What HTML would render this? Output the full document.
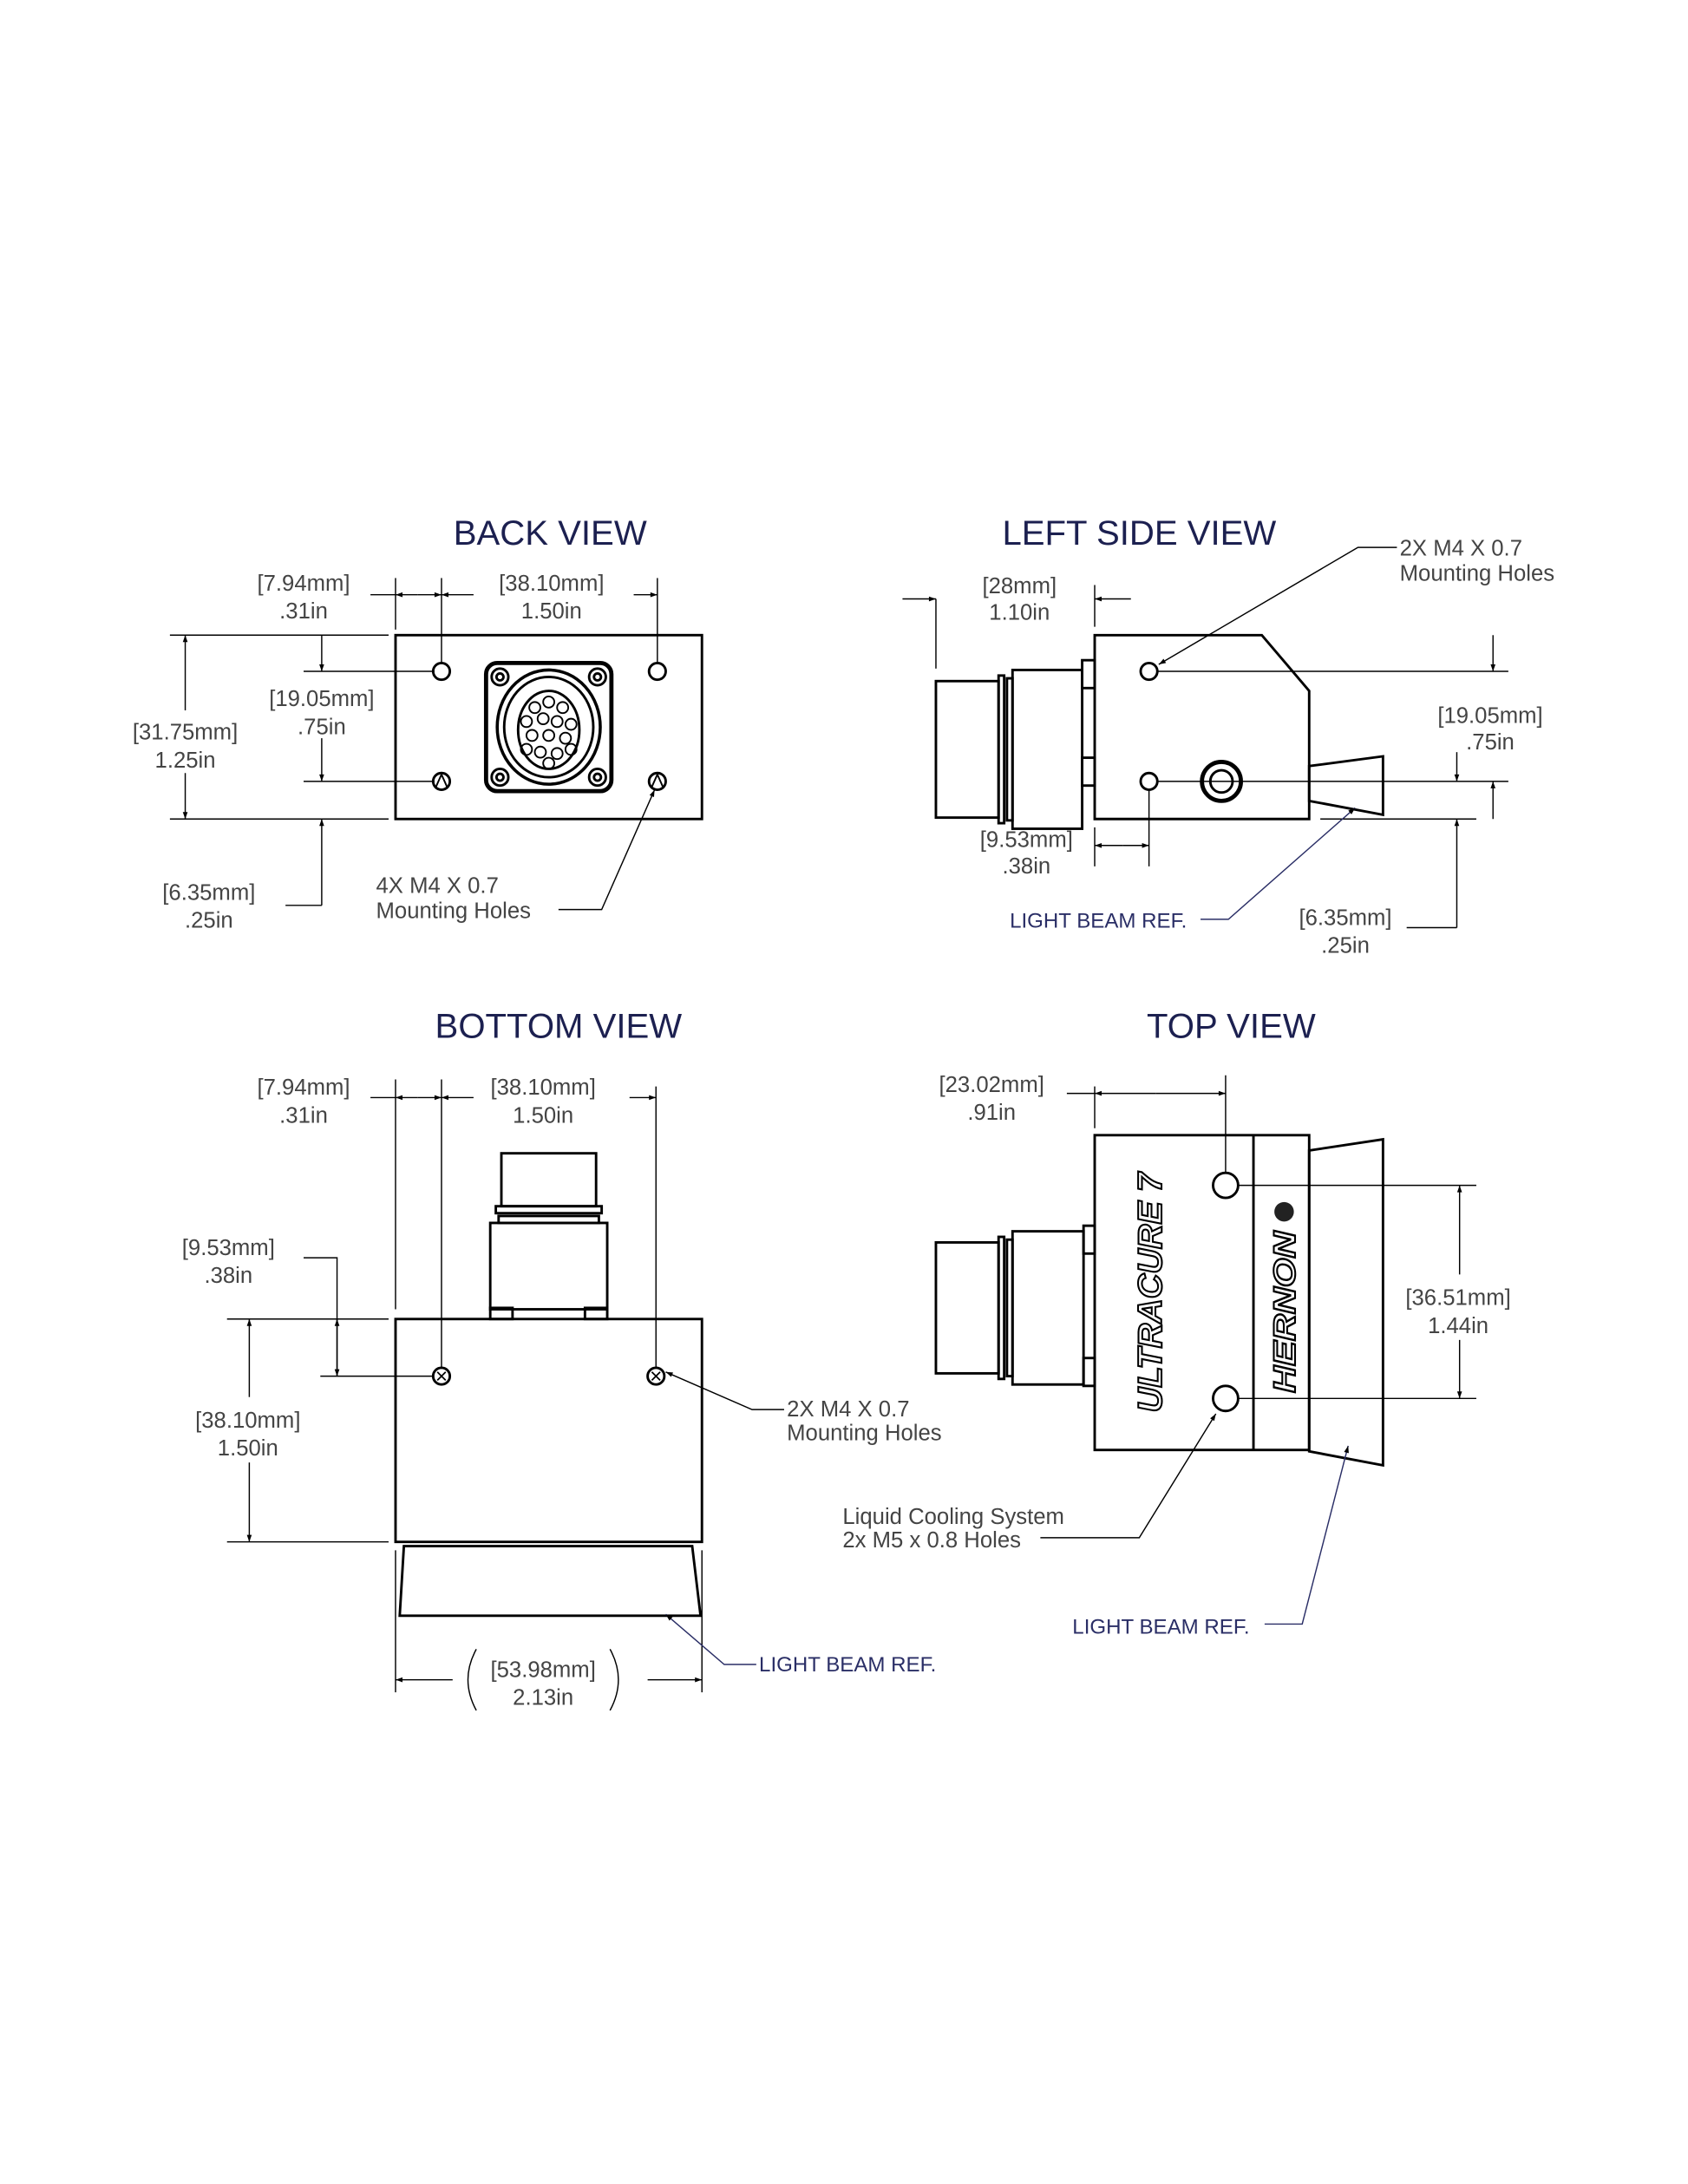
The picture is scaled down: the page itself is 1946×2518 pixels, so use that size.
<!DOCTYPE html>
<html><head><meta charset="utf-8"><style>
html,body{margin:0;padding:0;background:#fff;}
svg{display:block;}
text{font-family:"Liberation Sans",sans-serif;}
.d{font-size:16px;fill:#444;}
.t{font-size:25px;fill:#1c2050;}
.b{font-size:15px;fill:#2a2e66;}
</style></head><body>
<svg width="1946" height="2518" viewBox="0 0 1212 1568" preserveAspectRatio="none" xmlns="http://www.w3.org/2000/svg">
<defs>
<marker id="a" viewBox="0 0 10 10" refX="10" refY="5" markerWidth="9" markerHeight="5" markerUnits="userSpaceOnUse" orient="auto-start-reverse"><path d="M0,1.5 L10,5 L0,8.5z" fill="#000"/></marker>
</defs>
<g fill="none" stroke="#000" stroke-width="1.8">
<rect x="284" y="456" width="220" height="132"/>
<circle cx="317" cy="482" r="6"/><circle cx="472" cy="482" r="6"/>
<circle cx="317" cy="561" r="6"/><circle cx="472" cy="561" r="6"/>
<path d="M313,565 L317,556 L321,565" stroke-width="1.2"/><path d="M468,565 L472,556 L476,565" stroke-width="1.2"/>
<rect x="349" y="476" width="90" height="92" rx="8" stroke-width="3"/>
<circle cx="359" cy="486" r="6"/><circle cx="429" cy="486" r="6"/><circle cx="359" cy="558" r="6"/><circle cx="429" cy="558" r="6"/>
<circle cx="359" cy="486" r="2.5"/><circle cx="429" cy="486" r="2.5"/><circle cx="359" cy="558" r="2.5"/><circle cx="429" cy="558" r="2.5"/>
<ellipse cx="394" cy="522" rx="37" ry="41" stroke-width="2.2"/>
<ellipse cx="394" cy="522" rx="32" ry="36"/>
<ellipse cx="394" cy="524" rx="22" ry="28"/>
<g stroke-width="1.2">
<circle cx="394" cy="504" r="4"/><circle cx="384" cy="508" r="4"/><circle cx="404" cy="508" r="4"/><circle cx="378" cy="518" r="4"/><circle cx="390" cy="516" r="4"/><circle cx="400" cy="518" r="4"/><circle cx="410" cy="520" r="4"/><circle cx="382" cy="528" r="4"/><circle cx="394" cy="528" r="4"/><circle cx="406" cy="530" r="4"/><circle cx="378" cy="538" r="4"/><circle cx="388" cy="540" r="4"/><circle cx="400" cy="541" r="4"/><circle cx="410" cy="538" r="4"/><circle cx="394" cy="548" r="4"/>
</g>
</g>
<g fill="none" stroke="#000" stroke-width="0.9">
<line x1="284" y1="415" x2="284" y2="452"/><line x1="317" y1="415" x2="317" y2="476"/><line x1="472" y1="415" x2="472" y2="476"/>
<line x1="266" y1="427" x2="284" y2="427"/><line x1="300" y1="427" x2="284" y2="427" marker-end="url(#a)"/>
<line x1="300" y1="427" x2="317" y2="427" marker-end="url(#a)"/><line x1="340" y1="427" x2="317" y2="427" marker-end="url(#a)"/>
<line x1="455" y1="427" x2="472" y2="427" marker-end="url(#a)"/>
<line x1="122" y1="456" x2="279" y2="456"/><line x1="122" y1="588" x2="279" y2="588"/>
<line x1="133" y1="510" x2="133" y2="456" marker-end="url(#a)"/><line x1="133" y1="555" x2="133" y2="588" marker-end="url(#a)"/>
<line x1="218" y1="482" x2="312" y2="482"/><line x1="218" y1="561" x2="312" y2="561"/>
<line x1="231" y1="456" x2="231" y2="482" marker-end="url(#a)"/>
<line x1="231" y1="530" x2="231" y2="561" marker-end="url(#a)"/>
<line x1="231" y1="650" x2="231" y2="588" marker-end="url(#a)"/>
<polyline points="205,650 231,650"/>
<polyline points="401,653 432,653 470,567" marker-end="url(#a)"/>
</g>
<text class="t" x="395" y="391" text-anchor="middle">BACK VIEW</text>
<text class="d" x="218" y="424" text-anchor="middle">[7.94mm]</text><text class="d" x="218" y="444" text-anchor="middle">.31in</text>
<text class="d" x="396" y="424" text-anchor="middle">[38.10mm]</text><text class="d" x="396" y="444" text-anchor="middle">1.50in</text>
<text class="d" x="133" y="531" text-anchor="middle">[31.75mm]</text><text class="d" x="133" y="551" text-anchor="middle">1.25in</text>
<text class="d" x="231" y="507" text-anchor="middle">[19.05mm]</text><text class="d" x="231" y="527" text-anchor="middle">.75in</text>
<text class="d" x="150" y="646" text-anchor="middle">[6.35mm]</text><text class="d" x="150" y="666" text-anchor="middle">.25in</text>
<text class="d" x="270" y="641">4X M4 X 0.7</text><text class="d" x="270" y="659">Mounting Holes</text>

<g fill="none" stroke="#000" stroke-width="1.8">
<polygon points="786,456 906,456 940,496 940,588 786,588"/>
<rect x="672" y="489" width="45" height="98"/>
<rect x="717" y="485" width="4" height="106"/><rect x="723" y="487" width="4" height="102"/>
<rect x="727" y="481" width="50" height="114"/>
<rect x="777" y="474" width="9" height="20"/><rect x="777" y="544" width="9" height="20"/>
<circle cx="825" cy="482" r="6"/><circle cx="825" cy="561" r="6"/>
<circle cx="877" cy="561" r="14" stroke-width="3"/><circle cx="877" cy="561" r="8"/>
<polygon points="940,550 993,543 993,585 940,575"/>
</g>
<g fill="none" stroke="#000" stroke-width="0.9">
<line x1="831" y1="482" x2="1083" y2="482"/><line x1="831" y1="561" x2="1083" y2="561"/>
<line x1="948" y1="588" x2="1060" y2="588"/>
<line x1="672" y1="430" x2="672" y2="480"/><line x1="786" y1="420" x2="786" y2="450"/>
<line x1="648" y1="430" x2="672" y2="430" marker-end="url(#a)"/><line x1="812" y1="430" x2="786" y2="430" marker-end="url(#a)"/>
<line x1="786" y1="594" x2="786" y2="622"/><line x1="825" y1="567" x2="825" y2="622"/>
<line x1="806" y1="607" x2="786" y2="607" marker-end="url(#a)"/><line x1="806" y1="607" x2="825" y2="607" marker-end="url(#a)"/>
<line x1="1072" y1="456" x2="1072" y2="482" marker-end="url(#a)"/>
<line x1="1072" y1="588" x2="1072" y2="561" marker-end="url(#a)"/>
<line x1="1046" y1="540" x2="1046" y2="561" marker-end="url(#a)"/>
<line x1="1046" y1="666" x2="1046" y2="588" marker-end="url(#a)"/>
<line x1="1010" y1="666" x2="1046" y2="666"/>
<polyline points="1003,393 975,393 832,477" marker-end="url(#a)"/>
<polyline points="862,660 882,660 973,580" stroke="#2a2e66" marker-end="url(#a)"/>
</g>
<text class="t" x="818" y="391" text-anchor="middle">LEFT SIDE VIEW</text>
<text class="d" x="732" y="426" text-anchor="middle">[28mm]</text><text class="d" x="732" y="445" text-anchor="middle">1.10in</text>
<text class="d" x="737" y="608" text-anchor="middle">[9.53mm]</text><text class="d" x="737" y="627" text-anchor="middle">.38in</text>
<text class="d" x="1005" y="399">2X M4 X 0.7</text><text class="d" x="1005" y="417">Mounting Holes</text>
<text class="d" x="1070" y="519" text-anchor="middle">[19.05mm]</text><text class="d" x="1070" y="538" text-anchor="middle">.75in</text>
<text class="d" x="966" y="664" text-anchor="middle">[6.35mm]</text><text class="d" x="966" y="684" text-anchor="middle">.25in</text>
<text class="b" x="725" y="666">LIGHT BEAM REF.</text>

<g fill="none" stroke="#000" stroke-width="1.8">
<rect x="284" y="947" width="220" height="160"/>
<rect x="360" y="828" width="68" height="38"/>
<rect x="356" y="866" width="76" height="5"/><rect x="358" y="873" width="72" height="5"/>
<rect x="352" y="878" width="84" height="62"/>
<rect x="352" y="939" width="16" height="8"/><rect x="420" y="939" width="16" height="8"/>
<circle cx="317" cy="988" r="6"/><circle cx="471" cy="988" r="6"/>
<polygon points="290,1110 497,1110 503,1160 287,1160"/>
</g>
<g fill="none" stroke="#000" stroke-width="1.1"><path d="M314,985 L320,991 M320,985 L314,991 M468,985 L474,991 M474,985 L468,991"/></g>
<g fill="none" stroke="#000" stroke-width="0.9">
<line x1="284" y1="775" x2="284" y2="940"/><line x1="317" y1="775" x2="317" y2="982"/><line x1="471" y1="780" x2="471" y2="982"/>
<line x1="266" y1="788" x2="284" y2="788"/><line x1="300" y1="788" x2="284" y2="788" marker-end="url(#a)"/>
<line x1="300" y1="788" x2="317" y2="788" marker-end="url(#a)"/><line x1="340" y1="788" x2="317" y2="788" marker-end="url(#a)"/>
<line x1="452" y1="788" x2="471" y2="788" marker-end="url(#a)"/>
<line x1="163" y1="947" x2="279" y2="947"/><line x1="163" y1="1107" x2="279" y2="1107"/>
<line x1="230" y1="988" x2="311" y2="988"/>
<line x1="179" y1="1003" x2="179" y2="947" marker-end="url(#a)"/><line x1="179" y1="1050" x2="179" y2="1107" marker-end="url(#a)"/>
<line x1="242" y1="988" x2="242" y2="947" marker-end="url(#a)"/>
<line x1="242" y1="947" x2="242" y2="988" marker-end="url(#a)"/>
<polyline points="242,947 242,903 218,903"/>
<line x1="284" y1="1113" x2="284" y2="1215"/><line x1="504" y1="1113" x2="504" y2="1215"/>
<line x1="325" y1="1206" x2="284" y2="1206" marker-end="url(#a)"/><line x1="465" y1="1206" x2="504" y2="1206" marker-end="url(#a)"/>
<path d="M342,1184 Q330,1206 342,1228 M438,1184 Q450,1206 438,1228"/>
<polyline points="563,1012 540,1012 478,985" marker-end="url(#a)"/>
<polyline points="543,1195 520,1195 478,1159" stroke="#2a2e66" marker-end="url(#a)"/>
</g>
<text class="t" x="401" y="745" text-anchor="middle">BOTTOM VIEW</text>
<text class="d" x="218" y="786" text-anchor="middle">[7.94mm]</text><text class="d" x="218" y="806" text-anchor="middle">.31in</text>
<text class="d" x="390" y="786" text-anchor="middle">[38.10mm]</text><text class="d" x="390" y="806" text-anchor="middle">1.50in</text>
<text class="d" x="164" y="901" text-anchor="middle">[9.53mm]</text><text class="d" x="164" y="921" text-anchor="middle">.38in</text>
<text class="d" x="178" y="1025" text-anchor="middle">[38.10mm]</text><text class="d" x="178" y="1045" text-anchor="middle">1.50in</text>
<text class="d" x="390" y="1204" text-anchor="middle">[53.98mm]</text><text class="d" x="390" y="1224" text-anchor="middle">2.13in</text>
<text class="d" x="565" y="1017">2X M4 X 0.7</text><text class="d" x="565" y="1034">Mounting Holes</text>
<text class="b" x="545" y="1200">LIGHT BEAM REF.</text>

<g fill="none" stroke="#000" stroke-width="1.8">
<rect x="786" y="815" width="154" height="226"/>
<line x1="900" y1="815" x2="900" y2="1041"/>
<circle cx="880" cy="851" r="9"/><circle cx="880" cy="1004" r="9"/>
<polygon points="940,826 993,818 993,1052 940,1042"/>
<rect x="672" y="892" width="45" height="94"/>
<rect x="717" y="888" width="4" height="102"/><rect x="723" y="890" width="4" height="98"/>
<rect x="727" y="884" width="51" height="110"/>
<rect x="778" y="880" width="8" height="20"/><rect x="778" y="975" width="8" height="20"/>
</g>
<g fill="none" stroke="#000" stroke-width="0.9">
<line x1="786" y1="780" x2="786" y2="810"/><line x1="880" y1="772" x2="880" y2="842"/>
<line x1="766" y1="785" x2="786" y2="785"/>
<line x1="830" y1="785" x2="786" y2="785" marker-end="url(#a)"/><line x1="830" y1="785" x2="880" y2="785" marker-end="url(#a)"/>
<line x1="889" y1="851" x2="1060" y2="851"/><line x1="889" y1="1004" x2="1060" y2="1004"/>
<line x1="1048" y1="915" x2="1048" y2="851" marker-end="url(#a)"/><line x1="1048" y1="962" x2="1048" y2="1004" marker-end="url(#a)"/>
<polyline points="747,1104 818,1104 873,1015" marker-end="url(#a)"/>
<polyline points="908,1166 935,1166 968,1038" stroke="#2a2e66" marker-end="url(#a)"/>
</g>
<text x="0" y="0" transform="translate(834,1014) rotate(-90)" font-size="24" font-weight="bold" font-style="italic" fill="#fff" stroke="#000" stroke-width="1.3" textLength="172" lengthAdjust="spacingAndGlyphs">ULTRACURE 7</text>
<text x="0" y="0" transform="translate(930,1000) rotate(-90)" font-size="22" font-weight="bold" font-style="italic" fill="#fff" stroke="#000" stroke-width="1.3" textLength="116" lengthAdjust="spacingAndGlyphs">HERNON</text>
<circle cx="922" cy="870" r="7" fill="#222"/>
<text class="t" x="884" y="745" text-anchor="middle">TOP VIEW</text>
<text class="d" x="712" y="784" text-anchor="middle">[23.02mm]</text><text class="d" x="712" y="804" text-anchor="middle">.91in</text>
<text class="d" x="1047" y="937" text-anchor="middle">[36.51mm]</text><text class="d" x="1047" y="957" text-anchor="middle">1.44in</text>
<text class="d" x="605" y="1094">Liquid Cooling System</text><text class="d" x="605" y="1111">2x M5 x 0.8 Holes</text>
<text class="b" x="770" y="1173">LIGHT BEAM REF.</text>
</svg>
</body></html>
